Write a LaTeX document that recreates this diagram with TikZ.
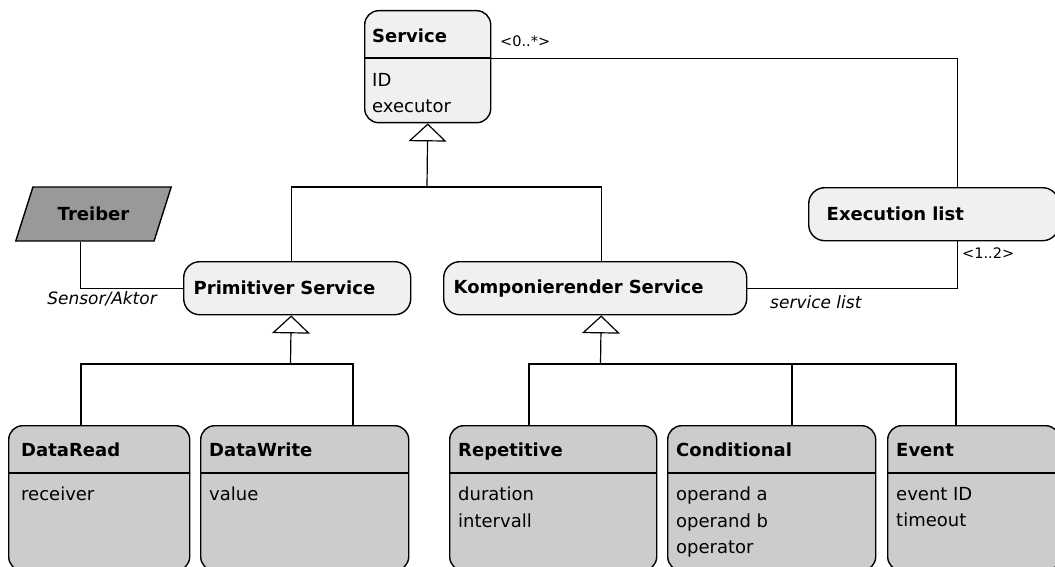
\documentclass[tikz,border=0pt]{standalone}
\usepackage{fontspec}
\setmainfont{DejaVu Sans}
\usetikzlibrary{shapes.geometric, arrows.meta}
\definecolor{boxlight}{gray}{0.94}
\definecolor{boxdark}{gray}{0.8}
\definecolor{driver}{gray}{0.6}
\tikzstyle{classbox}=[rectangle, draw, line width=1.4pt, rounded corners=14pt, anchor=north west, inner sep=0pt]
\tikzstyle{plainbox}=[rectangle, draw, line width=1.4pt, rounded corners=16pt, fill=boxlight, anchor=north west, inner xsep=10pt, inner ysep=0pt, minimum height=53pt, align=left, font=\bfseries\fontsize{18}{22}\selectfont]
\tikzstyle{io}=[trapezium, trapezium left angle=54, trapezium right angle=126, trapezium stretches=true, draw, fill=driver, line width=1.4pt, minimum height=54pt, minimum width=157pt, inner sep=0pt, font=\bfseries\fontsize{18}{22}\selectfont]
\tikzstyle{title}=[anchor=base west, inner sep=0pt, font=\bfseries\fontsize{18}{22}\selectfont]
\tikzstyle{attr}=[anchor=north west, inner sep=0pt, align=left, font=\fontsize{18}{26.5}\selectfont]
\tikzstyle{role}=[inner sep=0pt, font=\itshape\fontsize{17}{20}\selectfont]
\tikzstyle{mult}=[inner sep=0pt, anchor=base west, font=\fontsize{14.5}{17}\selectfont]
\tikzstyle{line}=[draw, line width=1.2pt]
\tikzstyle{inherit}=[draw, line width=1.2pt, -{Triangle[open, length=18pt, width=38pt]}]

\begin{document}
\begin{tikzpicture}[x=1pt, y=-1pt]
		\clip (0,0) rectangle (1055,567);

		% top class
		\node (svc) [classbox, fill=boxlight, minimum width=126pt, minimum height=112pt] at (364,10) {};
		\node (svct) [title] at (372,43) {Service};
		\node (svca) [attr] at (372,72.7) {ID\\executor};
		\draw[line, line width=1.4pt] ([yshift=-48pt]svc.north west) -- ([yshift=-48pt]svc.north east);

		% middle row
		\node (trb) [io] at (93.5,214) {Treiber};
		\node (prim) [plainbox, text width=207pt] at (183,261) {Primitiver Service};
		\node (komp) [plainbox, text width=283pt] at (443,261) {Komponierender Service};
		\node (exl) [plainbox, text width=214pt, inner xsep=18pt] at (808,187) {Execution list};

		% bottom row
		\node (dr) [classbox, fill=boxdark, minimum width=181pt, minimum height=145pt] at (8,425) {};
		\node (drt) [title] at (21,456) {DataRead};
		\node (dra) [attr] at (21,486.7) {receiver};
		\node (dw) [classbox, fill=boxdark, minimum width=208pt, minimum height=145pt] at (200,425) {};
		\node (dwt) [title] at (209,456) {DataWrite};
		\node (dwa) [attr] at (209,486.7) {value};
		\node (rep) [classbox, fill=boxdark, minimum width=207pt, minimum height=145pt] at (449,425) {};
		\node (rept) [title] at (458,456) {Repetitive};
		\node (repa) [attr] at (458,486.7) {duration\\intervall};
		\node (cond) [classbox, fill=boxdark, minimum width=208pt, minimum height=145pt] at (667,425) {};
		\node (condt) [title] at (676,456) {Conditional};
		\node (conda) [attr] at (676,486.7) {operand a\\operand b\\operator};
		\node (evt) [classbox, fill=boxdark, minimum width=172pt, minimum height=145pt] at (887,425) {};
		\node (evtt) [title] at (896,456) {Event};
		\node (evta) [attr] at (896,486.7) {event ID\\timeout};
		\foreach \n in {dr, dw, rep, cond, evt}
			\draw[line, line width=1.4pt] ([yshift=-48pt]\n.north west) -- ([yshift=-48pt]\n.north east);

		% labels
		\node (m1) [mult] at (500,47) {<0..*>};
		\node (m2) [mult] at (962,258) {<1..2>};
		\node (r1) [role, anchor=base east] at (157,304) {Sensor/Aktor};
		\node (r2) [role, anchor=base west] at (770,308) {service list};

		\coordinate (j1) at (427,187);
		\coordinate (j2) at (290.5,364);
		\coordinate (j3) at (600.5,364);

		\draw[line] ([yshift=8pt]svc.east) -| ([xshift=24pt]exl.north);
		\draw[line] ([xshift=24pt]exl.south) |- (komp.east);
		\draw[line] ([xshift=-4pt]trb.bottom side) |- (prim.west);

		\draw[line] ([xshift=-6pt]prim.north) |- (j1);
		\draw[line] ([xshift=6pt]komp.north) |- (j1);
		\draw[inherit] (j1) -- (svc.south);

		\draw[line] ([xshift=73pt]dr.north west) |- (j2);
		\draw[line] ([xshift=153pt]dw.north west) |- (j2);
		\draw[inherit] (j2) -- ([xshift=-6pt]prim.south);

		\draw[line] ([xshift=80pt]rep.north west) |- (j3);
		\draw[line] ([xshift=125pt]cond.north west) |- (j3);
		\draw[line] ([xshift=69pt]evt.north west) |- (j3);
		\draw[inherit] (j3) -- ([xshift=6pt]komp.south);
\end{tikzpicture}
\end{document}
